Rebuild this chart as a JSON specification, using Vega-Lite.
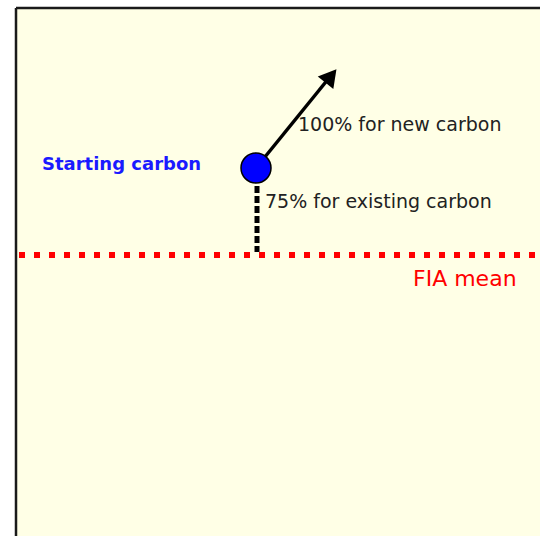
{
  "$schema": "https://vega.github.io/schema/vega-lite/v6.json",
  "width": 540,
  "height": 536,
  "autosize": {"type": "none"},
  "padding": 0,
  "background": "white",
  "config": {"view": {"stroke": null, "strokeWidth": 0}},
  "datasets": {
    "box": [{"x": 16, "x2": 540, "y": 8, "y2": 536}],
    "edges": [
      {"x": 16, "x2": 16, "y": 8, "y2": 536},
      {"x": 16, "x2": 540, "y": 8, "y2": 8}
    ],
    "mean": [{"x": 19, "x2": 540, "y": 255}],
    "drop": [{"x": 257, "y": 186, "y2": 252}],
    "arrow": [{"x": 256, "y": 168, "x2": 329, "y2": 78}],
    "head": [{"x": 331, "y": 76}],
    "start": [{"x": 256, "y": 168}],
    "startLabel": [{"x": 42, "y": 165, "label": "Starting carbon"}],
    "notes": [
      {"x": 298, "y": 125, "label": "100% for new carbon"},
      {"x": 265, "y": 202, "label": "75% for existing carbon"}
    ],
    "fia": [{"x": 413, "y": 279, "label": "FIA mean"}]
  },
  "layer": [
    {
      "data": {"name": "box"},
      "mark": {"type": "rect", "fill": "#FFFFE6"},
      "encoding": {
        "x": {"field": "x", "type": "quantitative", "scale": {"domain": [0, 540], "nice": false, "zero": false}, "axis": null},
        "x2": {"field": "x2"},
        "y": {"field": "y", "type": "quantitative", "scale": {"domain": [0, 536], "nice": false, "zero": false, "reverse": true}, "axis": null},
        "y2": {"field": "y2"}
      }
    },
    {
      "data": {"name": "edges"},
      "mark": {"type": "rule", "color": "#1a1a1a", "strokeWidth": 2.5},
      "encoding": {
        "x": {"field": "x", "type": "quantitative"},
        "x2": {"field": "x2"},
        "y": {"field": "y", "type": "quantitative"},
        "y2": {"field": "y2"}
      }
    },
    {
      "data": {"name": "mean"},
      "mark": {"type": "rule", "color": "#FF0000", "strokeWidth": 6, "strokeDash": [6, 9]},
      "encoding": {
        "x": {"field": "x", "type": "quantitative"},
        "x2": {"field": "x2"},
        "y": {"field": "y", "type": "quantitative"}
      }
    },
    {
      "data": {"name": "drop"},
      "mark": {"type": "rule", "color": "#000000", "strokeWidth": 5, "strokeDash": [7, 3]},
      "encoding": {
        "x": {"field": "x", "type": "quantitative"},
        "y": {"field": "y", "type": "quantitative"},
        "y2": {"field": "y2"}
      }
    },
    {
      "data": {"name": "arrow"},
      "mark": {"type": "rule", "color": "#000000", "strokeWidth": 3.5},
      "encoding": {
        "x": {"field": "x", "type": "quantitative"},
        "y": {"field": "y", "type": "quantitative"},
        "x2": {"field": "x2"},
        "y2": {"field": "y2"}
      }
    },
    {
      "data": {"name": "head"},
      "mark": {"type": "point", "shape": "triangle-up", "filled": true, "color": "#000000", "size": 400, "angle": 39, "opacity": 1},
      "encoding": {
        "x": {"field": "x", "type": "quantitative"},
        "y": {"field": "y", "type": "quantitative"}
      }
    },
    {
      "data": {"name": "start"},
      "mark": {"type": "point", "shape": "circle", "filled": true, "fill": "#0000FF", "stroke": "#000000", "strokeWidth": 1.5, "size": 900, "opacity": 1},
      "encoding": {
        "x": {"field": "x", "type": "quantitative"},
        "y": {"field": "y", "type": "quantitative"}
      }
    },
    {
      "data": {"name": "startLabel"},
      "mark": {"type": "text", "align": "left", "baseline": "middle", "font": "DejaVu Sans", "fontSize": 18, "fontWeight": "bold", "color": "#1a1aff"},
      "encoding": {
        "x": {"field": "x", "type": "quantitative"},
        "y": {"field": "y", "type": "quantitative"},
        "text": {"field": "label"}
      }
    },
    {
      "data": {"name": "notes"},
      "mark": {"type": "text", "align": "left", "baseline": "middle", "font": "DejaVu Sans", "fontSize": 19, "color": "#222222"},
      "encoding": {
        "x": {"field": "x", "type": "quantitative"},
        "y": {"field": "y", "type": "quantitative"},
        "text": {"field": "label"}
      }
    },
    {
      "data": {"name": "fia"},
      "mark": {"type": "text", "align": "left", "baseline": "middle", "font": "DejaVu Sans", "fontSize": 22, "color": "#FF0000"},
      "encoding": {
        "x": {"field": "x", "type": "quantitative"},
        "y": {"field": "y", "type": "quantitative"},
        "text": {"field": "label"}
      }
    }
  ]
}
